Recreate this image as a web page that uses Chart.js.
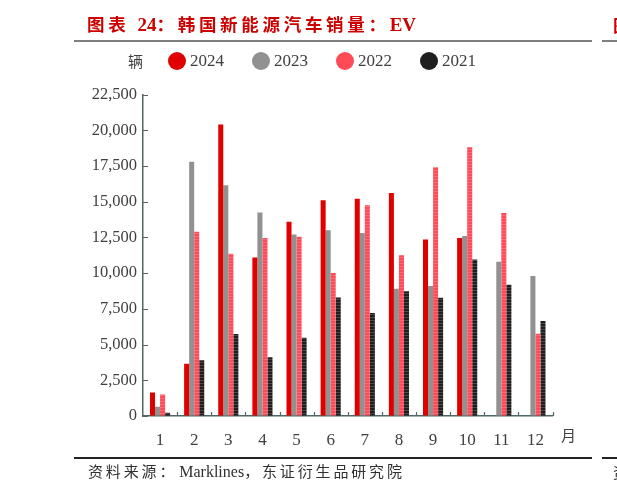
<!DOCTYPE html>
<html>
<head>
<meta charset="utf-8">
<script src="https://cdn.jsdelivr.net/npm/chart.js@4.4.1/dist/chart.umd.min.js"></script>
<style>
  html, body { margin: 0; padding: 0; background: #fff; }
  body { width: 617px; height: 492px; overflow: hidden; position: relative; }
  #wrap { position: absolute; left: 0; top: 0; width: 617px; height: 492px; }
  .abs { position: absolute; white-space: nowrap; }
  .lat { letter-spacing: 0; }
  #title { left: 87px; top: 13px; font-family: "Liberation Serif", "Noto Sans CJK SC", serif; font-weight: bold; font-size: 17.5px; letter-spacing: 3.7px; color: #cc0000; line-height: 24px; }
  #title .lat { font-size: 19px; }
  #tline { left: 74px; top: 40px; width: 518px; height: 2px; background: #7f7f7f; }
  #tline2 { left: 602px; top: 40px; width: 15px; height: 2px; background: #7f7f7f; }
  #tfrag { left: 613px; top: 13px; font-family: "Noto Sans CJK SC"; font-weight: bold; font-size: 17.5px; color: #cc0000; line-height: 24px; }
  #unit { left: 128px; top: 51px; font-family: "Noto Sans CJK SC"; font-size: 15px; color: #404040; line-height: 20px; }
  .leg { top: 51px; font-family: "Liberation Serif", serif; font-size: 17px; color: #404040; line-height: 20px; }
  .dot { position: absolute; top: 52px; width: 18px; height: 18px; border-radius: 50%; }
  #month { left: 561px; top: 425px; font-family: "Noto Sans CJK SC"; font-size: 15px; color: #404040; line-height: 20px; }
  #fline { left: 74px; top: 457px; width: 518px; height: 1.5px; background: #222; }
  #fline2 { left: 602px; top: 457px; width: 15px; height: 1.5px; background: #222; }
  #foot { left: 88px; top: 462px; font-family: "Liberation Serif", "Noto Sans CJK SC", serif; font-size: 15px; letter-spacing: 2.85px; color: #303030; line-height: 20px; }
  #foot .lat { font-size: 16px; margin-left: 2px; }
  #ffrag { left: 613px; top: 462px; font-family: "Noto Sans CJK SC"; font-size: 15px; color: #303030; line-height: 20px; }
</style>
</head>
<body>
<div id="wrap"><canvas id="c"></canvas></div>
<div class="abs" id="title">图表 <span class="lat">24</span>：韩国新能源汽车销量：<span class="lat">EV</span></div>
<div class="abs" id="tline"></div>
<div class="abs" id="tline2"></div>
<div class="abs" id="tfrag">图</div>
<div class="abs" id="unit">辆</div>
<div class="dot" style="left:168px;background:#e00000"></div>
<div class="abs leg" style="left:190px">2024</div>
<div class="dot" style="left:252px;background:#919191"></div>
<div class="abs leg" style="left:274px">2023</div>
<div class="dot" style="left:336px;background:#ff4b58"></div>
<div class="abs leg" style="left:358px">2022</div>
<div class="dot" style="left:420px;background:#1f1f1f"></div>
<div class="abs leg" style="left:442px">2021</div>
<div class="abs" id="month">月</div>
<div class="abs" id="fline"></div>
<div class="abs" id="fline2"></div>
<div class="abs" id="foot">资料来源：<span class="lat">Marklines</span>，东证衍生品研究院</div>
<div class="abs" id="ffrag">资</div>
<script>
// ---- data ----
const months = ['1','2','3','4','5','6','7','8','9','10','11','12'];
const seriesNames = ['2024','2023','2022','2021'];
const sales2024 = [1650, 3650, 20400, 11100, 13600, 15100, 15200, 15600, 12350, 12450, null, null];
const sales2023 = [650, 17800, 16150, 14250, 12700, 13000, 12800, 8900, 9100, 12600, 10800, 9800];
const sales2022 = [1500, 12900, 11350, 12450, 12550, 10000, 14750, 11250, 17400, 18800, 14200, 5750];
const sales2021 = [230, 3900, 5730, 4120, 5470, 8300, 7200, 8730, 8270, 10950, 9180, 6640];
const yTicks = [0, 2500, 5000, 7500, 10000, 12500, 15000, 17500, 20000, 22500];

function makePattern(base, accent, h) {
  const c = document.createElement('canvas');
  c.width = 2; c.height = h;
  const g = c.getContext('2d');
  g.fillStyle = base; g.fillRect(0, 0, 2, h);
  g.fillStyle = accent; g.fillRect(0, h - 1, 2, 1);
  return g.createPattern(c, 'repeat');
}
const pat2022 = makePattern('#ff4b58', '#ff6a75', 3);
const pat2021 = makePattern('#1f1f1f', '#4a4a4a', 3);

const axisColor = '#4f6767';
const inwardTicks = {
  id: 'inwardTicks',
  afterDraw(chart) {
    const ctx = chart.ctx;
    const xs = chart.scales.x, ys = chart.scales.y;
    ctx.save();
    ctx.strokeStyle = axisColor;
    ctx.lineWidth = 1.2;
    ctx.beginPath();
    yTicks.forEach(v => {
      const y = Math.round(ys.getPixelForValue(v)) + 0.5;
      ctx.moveTo(xs.left, y); ctx.lineTo(xs.left + 5, y);
    });
    const step = xs.getPixelForValue(1) - xs.getPixelForValue(0);
    for (let i = 1; i <= months.length; i++) {
      const x = Math.round(xs.getPixelForValue(i - 1) + step / 2) + 0.5;
      ctx.moveTo(x, ys.bottom); ctx.lineTo(x, ys.bottom - 4);
    }
    ctx.stroke();
    ctx.restore();
  }
};

new Chart(document.getElementById('c'), {
  type: 'bar',
  data: {
    labels: months,
    datasets: [
      { label: seriesNames[0], data: sales2024, backgroundColor: '#e00000' },
      { label: seriesNames[1], data: sales2023, backgroundColor: '#919191' },
      { label: seriesNames[2], data: sales2022, backgroundColor: pat2022 },
      { label: seriesNames[3], data: sales2021, backgroundColor: pat2021 }
    ]
  },
  options: {
    responsive: true,
    maintainAspectRatio: false,
    animation: false,
    datasets: { bar: { barPercentage: 1, categoryPercentage: 0.59, borderWidth: 0 } },
    layout: { padding: { top: 94.5, left: 0, right: 64.5, bottom: 0 } },
    plugins: { legend: { display: false }, tooltip: { enabled: false } },
    scales: {
      x: {
        offset: true,
        grid: { display: true, drawOnChartArea: false, drawTicks: false },
        border: { display: true, color: axisColor, width: 1.5 },
        ticks: { color: '#404040', font: { family: 'Liberation Serif', size: 17 }, padding: 14, maxRotation: 0 },
        afterFit(s) { s.height = 76; }
      },
      y: {
        min: 0, max: 22500,
        grid: { display: true, drawOnChartArea: false, drawTicks: false },
        border: { display: true, color: axisColor, width: 1.5 },
        afterBuildTicks(s) { s.ticks = yTicks.map(v => ({ value: v })); },
        ticks: {
          color: '#404040', font: { family: 'Liberation Serif', size: 16.5 }, padding: 6,
          callback: v => v.toLocaleString('en-US')
        },
        afterFit(s) { s.width = 143; }
      }
    }
  },
  plugins: [inwardTicks]
});
</script>
</body>
</html>
